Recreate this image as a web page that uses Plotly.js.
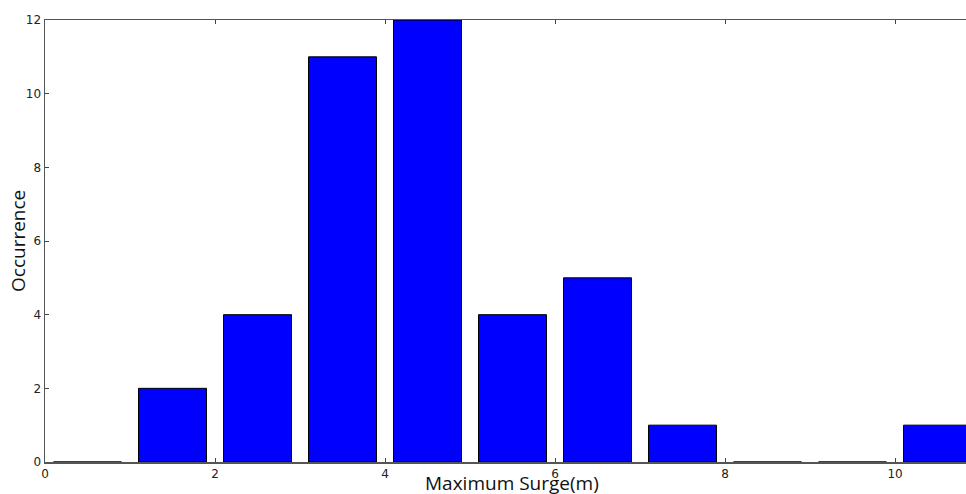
<!DOCTYPE html>
<html>
<head>
<meta charset="utf-8">
<script src="https://cdn.plot.ly/plotly-3.0.1.min.js"></script>
<style>html,body{margin:0;padding:0;background:#fff;}#chart{width:966px;height:494px;}</style>
</head>
<body>
<div id="chart"></div>
<script>
const binCenters = [0.5, 1.5, 2.5, 3.5, 4.5, 5.5, 6.5, 7.5, 8.5, 9.5, 10.5];
const occurrences = [0, 2, 4, 11, 12, 4, 5, 1, 0, 0, 1];
const xTicks = [0, 2, 4, 6, 8, 10];
const yTicks = [0, 2, 4, 6, 8, 10, 12];
const xTitle = 'Maximum Surge(m)';
const yTitle = 'Occurrence';

const trace = {
  type: 'bar',
  x: binCenters,
  y: occurrences,
  width: 0.8,
  marker: {color: '#0000ff', line: {color: '#000000', width: 1}},
  hoverinfo: 'x+y'
};

const titleFont = {size: 19, family: 'Open Sans', color: '#111'};

const layout = {
  width: 966, height: 494,
  margin: {l: 45, r: 0, t: 20, b: 32},
  paper_bgcolor: '#ffffff', plot_bgcolor: '#ffffff',
  showlegend: false,
  font: {family: 'DejaVu Sans', color: '#222'},
  bargap: 0,
  xaxis: {
    range: [0, 10.835],
    tickvals: xTicks, ticktext: xTicks.map(String),
    ticks: 'inside', ticklen: 4, tickcolor: '#444', tickwidth: 1,
    showline: true, linecolor: '#555', linewidth: 1.5, mirror: 'ticks',
    showgrid: false, zeroline: false,
    tickfont: {size: 12, family: 'DejaVu Sans', color: '#222'},
    automargin: false
  },
  yaxis: {
    range: [0, 12],
    tickvals: yTicks, ticktext: yTicks.map(String),
    ticks: 'inside', ticklen: 4, tickcolor: '#444', tickwidth: 1,
    showline: true, linecolor: '#555', linewidth: 1.5, mirror: false,
    showgrid: false, zeroline: false,
    tickfont: {size: 12, family: 'DejaVu Sans', color: '#222'},
    automargin: false
  },
  annotations: [
    {text: xTitle, xref: 'paper', yref: 'paper', x: 0.5, y: 0, yshift: -36, xshift: 6,
     xanchor: 'center', yanchor: 'bottom', showarrow: false, font: titleFont},
    {text: yTitle, xref: 'paper', yref: 'paper', x: 0, y: 0.5, xshift: -27,
     xanchor: 'center', yanchor: 'middle', textangle: -90, showarrow: false, font: titleFont}
  ]
};

Plotly.newPlot('chart', [trace], layout, {displayModeBar: false, staticPlot: true});
</script>
</body>
</html>
